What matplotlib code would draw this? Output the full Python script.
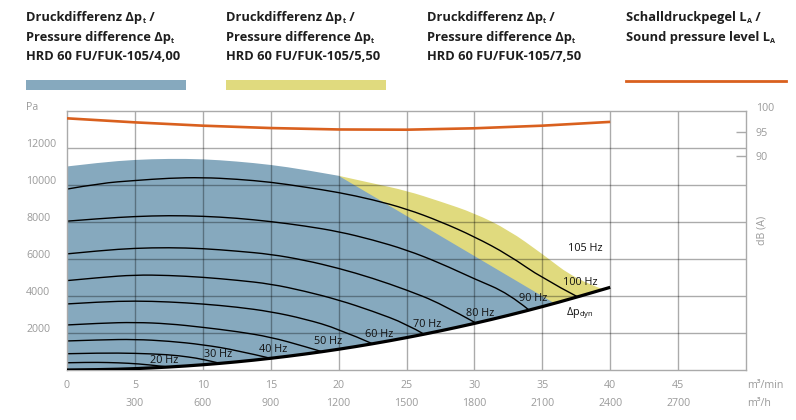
import numpy as np
import matplotlib
matplotlib.use("Agg")
import matplotlib.pyplot as plt
import matplotlib.transforms as mtransforms
from matplotlib.path import Path
from matplotlib.patches import PathPatch

plt.rcParams['font.family'] = ['Open Sans', 'DejaVu Sans']
plt.rcParams['mathtext.fontset'] = 'custom'
plt.rcParams['mathtext.rm'] = 'Open Sans'

# --- data (flow in m3/min, pressure in Pa) ---
dyn_x = [0, 2.5, 5, 7.5, 10, 12.5, 15, 17.5, 20, 22.5, 25, 27.5, 30, 32.5, 35, 37.5, 40]
dyn_p = [0, 17, 70, 157, 279, 436, 628, 855, 1116, 1413, 1744, 2110, 2511, 2947, 3418, 3924, 4464]

# HRD 60 FU/FUK-105/4,00 operating range (upper limit)
blue_x = [0, 2.5, 5, 7.5, 10, 12.5, 15, 17.5, 20]
blue_p = [10989, 11206, 11351, 11405, 11387, 11261, 11081, 10811, 10486]
blue_corner = (35.8, 3640)

# HRD 60 FU/FUK-105/5,50 operating range (upper limit = 105 Hz)
yellow_x = [20, 22.5, 25, 27.5, 30, 32.5, 35, 37.5, 39.5]
yellow_p = [10486, 10080, 9680, 9097, 8468, 7567, 6270, 4865, 4353]

curves = {
    "20 Hz": ([0, 1.5, 3, 4.5, 6, 7.5], [391, 414, 406, 368, 288, 157]),
    "30 Hz": ([0, 2.5, 5, 7.5, 9, 10, 11.3], [879, 920, 905, 830, 700, 580, 356]),
    "40 Hz": ([0, 2.5, 5, 7.5, 10, 12.5, 15.0], [1568, 1630, 1658, 1560, 1370, 1065, 630]),
    "50 Hz": ([0, 2.5, 5, 7.5, 10, 12.5, 15, 17.5, 18.8], [2432, 2530, 2576, 2500, 2306, 2080, 1780, 1270, 985]),
    "60 Hz": ([0, 2.5, 5, 7.5, 10, 12.5, 15, 17.5, 20, 22.5], [3567, 3680, 3730, 3680, 3567, 3400, 3153, 2760, 2220, 1415]),
    "70 Hz": ([0, 2.5, 5, 7.5, 10, 12.5, 15, 17.5, 20, 22.5, 25, 26.3],
              [4827, 5000, 5135, 5110, 5010, 4850, 4648, 4260, 3784, 3180, 2486, 1930]),
    "80 Hz": ([0, 2.5, 5, 7.5, 10, 12.5, 15, 17.5, 20, 22.5, 25, 27.5, 30.1],
              [6270, 6450, 6576, 6610, 6560, 6420, 6252, 5930, 5496, 4960, 4324, 3600, 2540]),
    "90 Hz": ([0, 2.5, 5, 7.5, 10, 12.5, 15, 17.5, 20, 22.5, 25, 27.5, 30, 32.5, 34.0],
              [8036, 8180, 8290, 8340, 8306, 8200, 8018, 7780, 7476, 7030, 6486, 5766, 4918, 4145, 3250]),
    "100 Hz": ([0, 2.5, 5, 7.5, 10, 12.5, 15, 17.5, 20, 22.5, 25, 27.5, 30, 32.5, 35, 37.6],
               [9768, 10090, 10230, 10360, 10395, 10305, 10145, 9880, 9590, 9200, 8700, 8016, 7200, 6220, 4950, 3950]),
}
# label centre for each curve
label_pos = {
    "20 Hz": (7.15, 486), "30 Hz": (11.1, 811), "40 Hz": (15.2, 1081), "50 Hz": (19.2, 1513),
    "60 Hz": (23.0, 1930), "70 Hz": (26.55, 2470), "80 Hz": (30.4, 3063), "90 Hz": (34.3, 3855),
    "100 Hz": (37.8, 4720), "105 Hz": (38.2, 6580),
}

# sound pressure level dB(A)
sound_x = [0, 5, 10, 15, 20, 25, 30, 35, 40]
sound_db = [97.95, 97.1, 96.4, 95.9, 95.6, 95.55, 95.85, 96.4, 97.2]

x_ticks_min = [0, 5, 10, 15, 20, 25, 30, 35, 40, 45]
x_ticks_h = [5, 10, 15, 20, 25, 30, 35, 40, 45]
x_labels_h = ["300", "600", "900", "1200", "1500", "1800", "2100", "2400", "2700"]
pa_ticks = [2000, 4000, 6000, 8000, 10000, 12000]
db_ticks = [90, 95]

# header lines: list of (text, subscript, tail)
legend_titles = [
    [("Druckdifferenz Δp", "t", " /"), ("Pressure difference Δp", "t", ""), ("HRD 60 FU/FUK-105/4,00", "", "")],
    [("Druckdifferenz Δp", "t", " /"), ("Pressure difference Δp", "t", ""), ("HRD 60 FU/FUK-105/5,50", "", "")],
    [("Druckdifferenz Δp", "t", " /"), ("Pressure difference Δp", "t", ""), ("HRD 60 FU/FUK-105/7,50", "", "")],
    [("Schalldruckpegel L", "A", " /"), ("Sound pressure level L", "A", "")],
]

BLUE = "#86a9be"
YELLOW = "#e0da7e"
ORANGE = "#d9601e"
GRID = "#aaaaaa"
TICK = "#9a9a9a"
W, H = 796, 420


def smooth(xs, ys, first=True):
    """quadratic spline through the midpoints, read points as controls"""
    verts = [(xs[0], ys[0])]
    codes = [Path.MOVETO if first else Path.LINETO]
    n = len(xs)
    if n == 2:
        verts.append((xs[1], ys[1]))
        codes.append(Path.LINETO)
        return verts, codes
    for i in range(1, n - 1):
        if i < n - 2:
            end = ((xs[i] + xs[i + 1]) / 2, (ys[i] + ys[i + 1]) / 2)
        else:
            end = (xs[n - 1], ys[n - 1])
        verts += [(xs[i], ys[i]), end]
        codes += [Path.CURVE3, Path.CURVE3]
    return verts, codes


fig = plt.figure(figsize=(W / 100, H / 100), dpi=100)
ax = fig.add_axes([67 / W, 50 / H, (746 - 67) / W, (370 - 110.7) / H])
ax.set_xlim(0, 50)
ax.set_ylim(0, 14000)

# yellow area: 105 Hz limit down to dynamic pressure
v1, c1 = smooth(yellow_x, yellow_p)
dx = [x for x in dyn_x if 20 <= x <= 39.5][::-1]
dp = [p for x, p in zip(dyn_x, dyn_p) if 20 <= x <= 39.5][::-1]
v2, c2 = smooth(dx, dp, first=False)
ax.add_patch(PathPatch(Path(v1 + v2 + [(0, 0)], c1 + c2 + [Path.CLOSEPOLY]),
                       facecolor=YELLOW, edgecolor="none", zorder=1))

# blue area
v1, c1 = smooth(blue_x, blue_p)
v1.append(blue_corner)
c1.append(Path.LINETO)
dx = [x for x in dyn_x if x <= 35][::-1]
dp = [p for x, p in zip(dyn_x, dyn_p) if x <= 35][::-1]
v2, c2 = smooth(dx, dp, first=False)
ax.add_patch(PathPatch(Path(v1 + v2 + [(0, 0)], c1 + c2 + [Path.CLOSEPOLY]),
                       facecolor=BLUE, edgecolor="none", zorder=1.1))

# grid drawn over the fills (darkens them like a multiply)
for gx in range(5, 50, 5):
    ax.axvline(gx, color="black", alpha=0.33, lw=1, zorder=1.5)
for gy in range(2000, 14000, 2000):
    ax.axhline(gy, color="black", alpha=0.33, lw=1, zorder=1.5)

for name, (cx, cp) in curves.items():
    v, c = smooth(cx, cp)
    ax.add_patch(PathPatch(Path(v, c), facecolor="none", edgecolor="black", lw=1.0, zorder=2))
v, c = smooth(dyn_x, dyn_p)
ax.add_patch(PathPatch(Path(v, c), facecolor="none", edgecolor="black", lw=2.3, zorder=3,
                       capstyle="butt"))

for name, (lx, ly) in label_pos.items():
    kw = {}
    if name == "105 Hz":
        kw["bbox"] = dict(facecolor="white", edgecolor="none", pad=1.5)
    ax.text(lx, ly, name, fontsize=7.8, ha="center", va="center", color="#111111", zorder=4, **kw)
ax.text(36.75, 3080, "Δp${}_\\mathrm{dyn}$", fontsize=7.8, ha="left", va="center", color="#111111", zorder=4)

for s in ax.spines.values():
    s.set_color(GRID)
    s.set_linewidth(1)
ax.set_xticks([])
ax.set_yticks([])

# left tick labels (left aligned)
off = mtransforms.ScaledTranslation(0, 0.03, fig.dpi_scale_trans)
ytr = mtransforms.blended_transform_factory(fig.transFigure, ax.transData) + off
for v in pa_ticks:
    ax.text(26 / W, v, str(v), transform=ytr, fontsize=7.7, color=TICK, ha="left", va="center")
ax.text(26 / W, 14000, "Pa", transform=ytr, fontsize=7.7, color=TICK, ha="left", va="center")

# bottom tick labels, two rows
xtr = mtransforms.blended_transform_factory(ax.transData, fig.transFigure)
for v in x_ticks_min:
    ax.text(v, 1 - 385 / H, str(v), transform=xtr, fontsize=7.7, color=TICK, ha="center", va="center")
for v, lab in zip(x_ticks_h, x_labels_h):
    ax.text(v, 1 - 403.3 / H, lab, transform=xtr, fontsize=7.7, color=TICK, ha="center", va="center")
fig.text(746.7 / W, 1 - 385 / H, "m³/min", fontsize=7.7, color=TICK, ha="left", va="center")
fig.text(746.7 / W, 1 - 403.3 / H, "m³/h", fontsize=7.7, color=TICK, ha="left", va="center")

# right dB axis
ax2 = ax.twinx()
ax2.set_ylim(44.85, 99.56)
for s in ax2.spines.values():
    s.set_visible(False)
ax2.set_yticks(db_ticks)
ax2.set_yticklabels([str(v) for v in db_ticks])
ax2.tick_params(axis="y", direction="in", length=7, width=1, color=GRID, labelcolor=TICK,
                labelsize=7.7, pad=7.2)
rtr = mtransforms.blended_transform_factory(ax2.transAxes, ax2.transData)
ax2.text(1 + 10 / (746 - 67), 100, "100", transform=rtr, fontsize=7.7, color=TICK, ha="left",
         va="center", clip_on=False)
fig.text(762 / W, 1 - 230 / H, "dB (A)", rotation=90, fontsize=7.7, color=TICK, ha="center", va="center")
ax2.plot(sound_x, sound_db, color=ORANGE, lw=1.9, zorder=5, solid_capstyle="butt")

# legend header, subscripts placed after measuring the text
renderer = fig.canvas.get_renderer()
col_x = [26, 226, 426.7, 626]
baselines = [20.7, 40.7, 60]
for cx, lines in zip(col_x, legend_titles):
    for b, (main, sub, tail) in zip(baselines, lines):
        t = fig.text(cx / W, 1 - b / H, main, fontsize=9.3, fontweight="bold", color="#1e1e1e",
                     ha="left", va="baseline")
        x1 = t.get_window_extent(renderer).x1
        if sub:
            s = fig.text((x1 + 0.5) / W, 1 - (b + 2.5) / H, sub, fontsize=5.2, fontweight="bold",
                         color="#1e1e1e", ha="left", va="baseline")
            x1 = s.get_window_extent(renderer).x1
        if tail:
            fig.text(x1 / W, 1 - b / H, tail, fontsize=9.3, fontweight="bold", color="#1e1e1e",
                     ha="left", va="baseline")

for sx, c in [(26, BLUE), (226, YELLOW)]:
    fig.patches.append(plt.Rectangle((sx / W, 1 - 90 / H), 160 / W, 10 / H, transform=fig.transFigure,
                                     facecolor=c, edgecolor="none"))
fig.lines.append(plt.Line2D([626 / W, 786 / W], [1 - 81.3 / H, 1 - 81.3 / H], transform=fig.transFigure,
                            color=ORANGE, lw=2.0))

fig.savefig("out.png", dpi=100)
